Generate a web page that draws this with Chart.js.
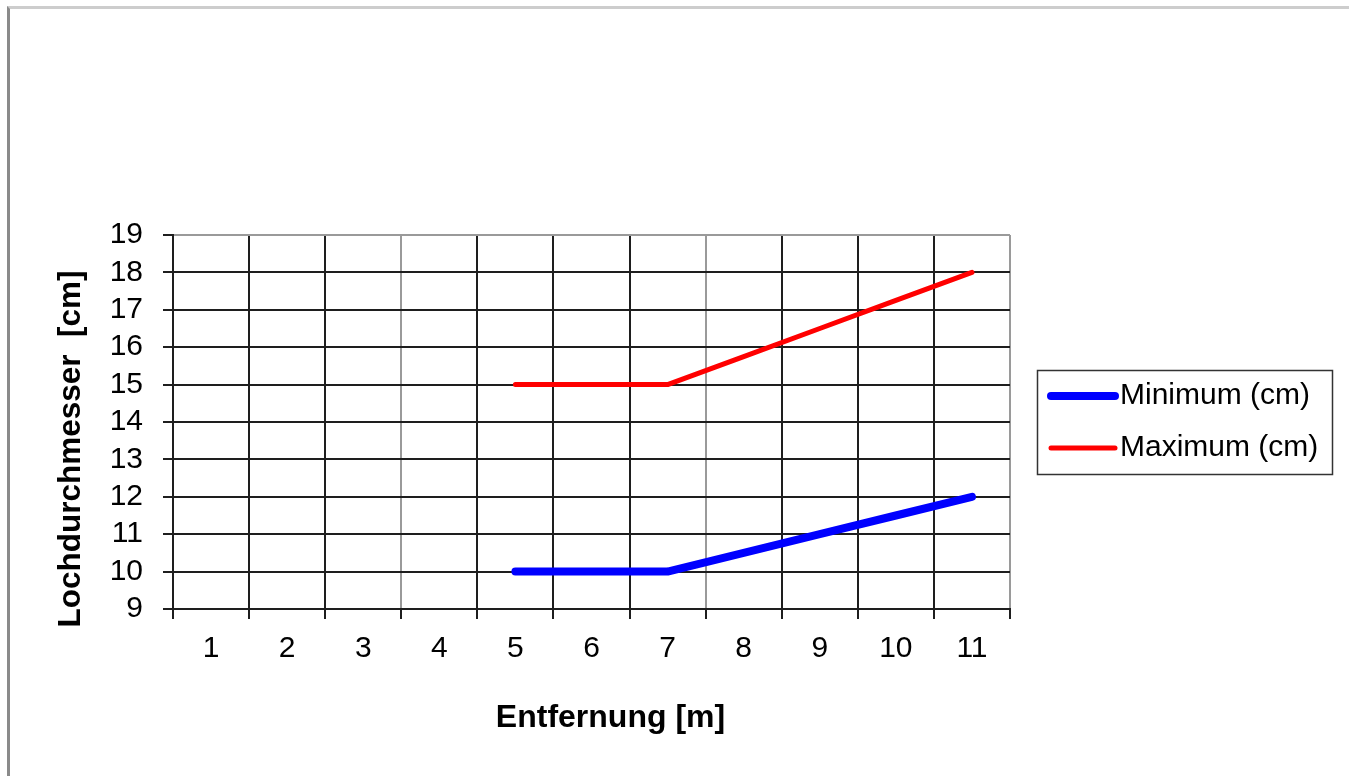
<!DOCTYPE html>
<html>
<head>
<meta charset="utf-8">
<script src="https://cdn.jsdelivr.net/npm/chart.js@4/dist/chart.umd.min.js"></script>
<style>
  html, body { margin: 0; padding: 0; background: #fff; }
  #wrap { position: relative; width: 1353px; height: 776px; overflow: hidden; }
  #frame { position: absolute; left: 7px; top: 6px; width: 1342px; height: 800px;
           border-left: 3px solid #8a8a8a; border-top: 3px solid #cdcdcd; box-sizing: border-box; }
  canvas { position: absolute; left: 0; top: 0; }
</style>
</head>
<body>
<div id="wrap">
  <div id="frame"></div>
  <canvas id="c" width="1353" height="776"></canvas>
</div>
<script>
// ---- data ----
const categories = ["1", "2", "3", "4", "5", "6", "7", "8", "9", "10", "11"];
const minimumValues = [null, null, null, null, 10, 10, 10, 10.5, 11, 11.5, 12];
const maximumValues = [null, null, null, null, 15, 15, 15, 15.75, 16.5, 17.25, 18];
const seriesLabels = ["Minimum (cm)", "Maximum (cm)"];
const xTitle = "Entfernung [m]";
const yTitle = "Lochdurchmesser  [cm]";
const yMin = 9, yMax = 19, yStep = 1;

const FONT = '"Liberation Sans", Arial, sans-serif';
const DARK = '#1e1e1e';
const LIGHT = '#9a9a9a';

const overlayPlugin = {
  id: 'overlay',
  afterDraw(chart) {
    const ctx = chart.ctx;
    const ca = chart.chartArea;
    ctx.save();
    // axis titles
    ctx.fillStyle = '#000';
    ctx.textAlign = 'center';
    ctx.textBaseline = 'middle';
    ctx.font = 'bold 32px ' + FONT;
    ctx.fillText(xTitle, ca.left + (ca.right - ca.left) / 2 + 19, 718);
    ctx.save();
    ctx.translate(71, ca.top + (ca.bottom - ca.top) / 2 + 27);
    ctx.rotate(-Math.PI / 2);
    ctx.font = 'bold 31.5px ' + FONT;
    ctx.fillText(yTitle, 0, 0);
    ctx.restore();

    // legend
    const lx = ca.right + 27, ly = 370, lw = 295, lh = 104;
    ctx.lineWidth = 1.5;
    ctx.strokeStyle = '#333';
    ctx.strokeRect(lx + 0.5, ly + 0.5, lw, lh);
    const rows = [396, 448];
    chart.data.datasets.forEach((ds, i) => {
      const y = rows[i];
      ctx.beginPath();
      ctx.strokeStyle = ds.borderColor;
      ctx.lineWidth = ds.borderWidth;
      ctx.lineCap = 'round';
      ctx.moveTo(lx + 14, y);
      ctx.lineTo(lx + 78, y);
      ctx.stroke();
      ctx.fillStyle = '#000';
      ctx.textAlign = 'left';
      ctx.textBaseline = 'middle';
      ctx.font = '30px ' + FONT;
      ctx.fillText(ds.label, lx + 83, y);
    });
    ctx.restore();
  }
};

new Chart(document.getElementById('c'), {
  type: 'line',
  data: {
    labels: categories,
    datasets: [
      {
        label: seriesLabels[0],
        data: minimumValues,
        borderColor: '#0000ff',
        backgroundColor: '#0000ff',
        borderWidth: 8,
        pointRadius: 0,
        pointHoverRadius: 0,
        borderCapStyle: 'round',
        borderJoinStyle: 'round',
        tension: 0,
        spanGaps: false
      },
      {
        label: seriesLabels[1],
        data: maximumValues,
        borderColor: '#ff0000',
        backgroundColor: '#ff0000',
        borderWidth: 5,
        pointRadius: 0,
        pointHoverRadius: 0,
        borderCapStyle: 'round',
        borderJoinStyle: 'round',
        tension: 0,
        spanGaps: false
      }
    ]
  },
  options: {
    responsive: false,
    animation: false,
    devicePixelRatio: 1,
    layout: { padding: { left: 50, right: 343, top: 235, bottom: 47 } },
    plugins: {
      legend: { display: false },
      tooltip: { enabled: false },
      title: { display: false }
    },
    scales: {
      x: {
        type: 'category',
        offset: true,
        grid: {
          offset: true,
          display: true,
          drawTicks: true,
          tickLength: 10,
          lineWidth: 2,
          tickColor: DARK,
          color: (c) => (c.index === undefined || c.index === 3 || c.index === 7) ? LIGHT : DARK
        },
        border: { display: true, color: DARK, width: 2 },
        ticks: {
          color: '#000',
          font: { family: FONT, size: 30 },
          padding: 12,
          maxRotation: 0,
          autoSkip: false
        },
        title: { display: false },
        afterFit(scale) { scale.height = 120; }
      },
      y: {
        min: yMin,
        max: yMax,
        grid: {
          display: true,
          tickLength: 10,
          lineWidth: 2,
          tickColor: DARK,
          color: (c) => (c.tick && c.tick.value === yMax) ? LIGHT : DARK
        },
        border: { display: true, color: DARK, width: 2 },
        ticks: {
          stepSize: yStep,
          autoSkip: false,
          color: '#000',
          font: { family: FONT, size: 30 },
          padding: 20
        },
        title: { display: false },
        afterFit(scale) { scale.width = 123; }
      }
    }
  },
  plugins: [overlayPlugin]
});
</script>
</body>
</html>
